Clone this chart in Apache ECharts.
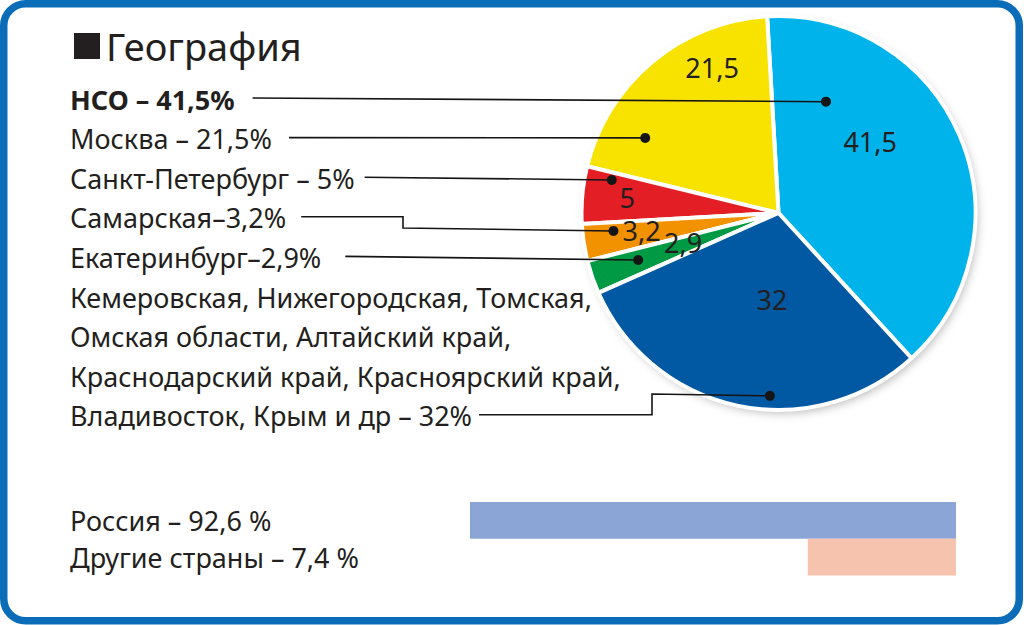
<!DOCTYPE html>
<html>
<head>
<meta charset="utf-8">
<script src="https://cdn.jsdelivr.net/npm/echarts@6/dist/echarts.min.js"></script>
<style>
html,body{margin:0;padding:0;background:#fff;}
#c{width:1024px;height:625px;}
</style>
</head>
<body>
<div id="c"></div>
<script>
// ---------------- DATA ----------------
const titleText = 'География';
const regionNames = ['НСО', 'Москва', 'Санкт-Петербург', 'Самарская', 'Екатеринбург', 'Другие регионы'];
const regionShares = [41.5, 21.5, 5, 3.2, 2.9, 32];
const regionLabels = [
  'НСО – 41,5%',
  'Москва – 21,5%',
  'Санкт-Петербург – 5%',
  'Самарская–3,2%',
  'Екатеринбург–2,9%',
  'Кемеровская, Нижегородская, Томская,\nОмская области, Алтайский край,\nКраснодарский край, Красноярский край,\nВладивосток, Крым и др – 32%'
];
const countryNames = ['Россия', 'Другие страны'];
const countryShares = [92.6, 7.4];

// ---------------- STYLE / LAYOUT ----------------
const FONT = "'Noto Sans', 'Open Sans', sans-serif";
const TEXT = '#231f20';
const LINE = '#151515';
const sliceColors = ['#00b4eb', '#f8e300', '#e31e24', '#f39200', '#009a44', '#0059a2'];
const barColors = ['#8ba6d6', '#f6c3ae'];
const PIE = { cx: 778.5, cy: 213, r: 197, startAngle: -47.5 };
const numLabelPolar = [[37.8, 116], [114.5, 160], [174, 152], [187.1, 138], [197.4, 100], [265.7, 87]];
const dotPolar = [[66.9, 121], [150.6, 153], [168.8, 170], [186.2, 166], [198.5, 148], [267.3, 183]];
const lineGaps = [18, 17, 10, 15, 24, 7];
const elbows = { 3: [403, 228], 5: [652, 394] };
const ROW0 = 107, ROWSTEP = 39.6, ROWFONT = 27;

const fmt = v => String(v).replace('.', ',');
const rad = d => d * Math.PI / 180;
const polar = (deg, rr) => [PIE.cx + rr * Math.cos(rad(deg)), PIE.cy - rr * Math.sin(rad(deg))];

const mctx = document.createElement('canvas').getContext('2d');
function textWidth(s, size, weight) {
  mctx.font = (weight || 'normal') + ' ' + size + 'px ' + FONT;
  return mctx.measureText(s).width;
}

// ---------------- GRAPHIC (frame, title, list, leaders) ----------------
const graphic = [];
graphic.push({ type: 'rect', z: -10, silent: true,
  shape: { x: 3.75, y: 3.75, width: 1015.5, height: 617, r: 22 },
  style: { fill: '#fff', stroke: '#0b6cb8', lineWidth: 7.5 } });
graphic.push({ type: 'rect', z: 10, silent: true,
  shape: { x: 74, y: 33, width: 26, height: 26 }, style: { fill: TEXT } });
graphic.push({ type: 'text', z: 10, silent: true,
  style: { x: 106, y: 46, text: titleText, fontSize: 38, fontFamily: FONT, fill: TEXT, verticalAlign: 'middle', align: 'left' } });

let row = 0;
regionLabels.forEach((lab, i) => {
  const lines = lab.split('\n');
  const weight = i === 0 ? 'bold' : 'normal';
  const size = ROWFONT;
  let lastW = 0, lastBase = 0;
  lines.forEach(ln => {
    const base = ROW0 + row * ROWSTEP;
    graphic.push({ type: 'text', z: 10, silent: true,
      style: { x: 70, y: base - 8, text: ln, fontSize: size, fontWeight: weight, fontFamily: FONT, fill: TEXT, verticalAlign: 'middle', align: 'left' } });
    lastW = textWidth(ln, size, weight);
    lastBase = base;
    row++;
  });
  const ly = lastBase - 9;
  const sx = 70 + lastW + lineGaps[i];
  const [dx, dy] = polar(dotPolar[i][0], dotPolar[i][1]);
  const pts = [[sx, ly]];
  if (elbows[i]) { pts.push([elbows[i][0], ly]); pts.push([elbows[i][0], elbows[i][1]]); }
  pts.push([dx, dy]);
  graphic.push({ type: 'polyline', z: 100, silent: true, shape: { points: pts },
    style: { stroke: LINE, lineWidth: 1.6, fill: null } });
  graphic.push({ type: 'circle', z: 101, silent: true, shape: { cx: dx, cy: dy, r: 5 },
    style: { fill: LINE } });
});

const total = regionShares.reduce((a, b) => a + b, 0);

const chart = echarts.init(document.getElementById('c'), null, { renderer: 'svg' });
chart.setOption({
  animation: false,
  backgroundColor: '#fff',
  graphic: graphic,
  grid: { left: 470, right: 68, top: 502, height: 73.5 },
  xAxis: { type: 'value', inverse: true, min: -30, max: 'dataMax', startValue: -30, show: false },
  yAxis: {
    type: 'category', data: countryNames, inverse: true,
    axisLine: { show: false }, axisTick: { show: false }, splitLine: { show: false },
    axisLabel: { show: true, align: 'left', margin: 400, fontSize: 27, fontFamily: FONT, color: TEXT,
      formatter: (v, i) => v + ' – ' + fmt(countryShares[i]) + ' %' }
  },
  series: [
    { type: 'pie', silent: true, center: [PIE.cx, PIE.cy], radius: PIE.r - 1, z: 1,
      data: [{ value: total, name: '' }], label: { show: false }, labelLine: { show: false },
      itemStyle: { color: '#fff', shadowBlur: 10, shadowColor: 'rgba(0,0,0,0.28)', shadowOffsetX: 3, shadowOffsetY: 4 } },
    { type: 'pie', silent: true, center: [PIE.cx, PIE.cy], radius: PIE.r, z: 2,
      startAngle: PIE.startAngle, clockwise: false, avoidLabelOverlap: false,
      data: regionNames.map((n, i) => ({ name: n, value: regionShares[i], itemStyle: { color: sliceColors[i] } })),
      itemStyle: { borderColor: '#fff', borderWidth: 4 },
      label: { show: true, position: 'inside', formatter: p => fmt(p.value), fontSize: 27, fontFamily: FONT, color: TEXT },
      labelLine: { show: false },
      labelLayout: p => {
        const pos = polar(numLabelPolar[p.dataIndex][0], numLabelPolar[p.dataIndex][1]);
        return { x: pos[0], y: pos[1], align: 'center', verticalAlign: 'middle' };
      }
    },
    { type: 'bar', silent: true, barWidth: '100%',
      data: countryShares.map((v, i) => ({ value: v, itemStyle: { color: barColors[i] } })) }
  ]
});
</script>
</body>
</html>
